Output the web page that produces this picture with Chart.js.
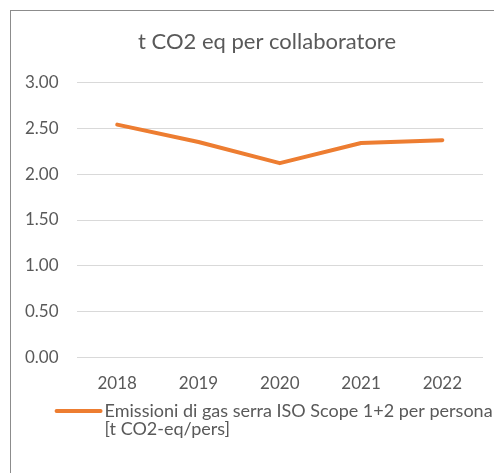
<!DOCTYPE html>
<html>
<head>
<meta charset="utf-8">
<script src="https://cdn.jsdelivr.net/npm/chart.js@4"></script>
<style>
  html, body { margin: 0; padding: 0; background: #fff; overflow: hidden; }
  #frame { position: absolute; left: 10px; top: 10px; width: 600px; height: 600px; border: 1px solid #8c8c8c; }
  #wrap { position: absolute; left: 0; top: 0; width: 494px; height: 473px; }
</style>
</head>
<body>
<div id="frame"></div>
<div id="wrap"><canvas id="chart"></canvas></div>
<script>
// dati
const anni = ['2018', '2019', '2020', '2021', '2022'];
const emissioniPerPersona = [2.54, 2.35, 2.12, 2.34, 2.37];
const etichettaSerie = ['Emissioni di gas serra ISO Scope 1+2 per persona', '[t CO2-eq/pers]'];
const titolo = 't CO2 eq per collaboratore';

const grigioTesto = '#595959';
const arancio = '#ED7D31';
const fontBase = 'Lato, "Open Sans", sans-serif';

// legenda disegnata a mano (Chart.js non va a capo come Excel)
const legendaExcel = {
  id: 'legendaExcel',
  afterDraw(chart) {
    const ctx = chart.ctx;
    const ds = chart.data.datasets[0];
    const xScale = chart.scales.x;
    const x0 = chart.chartArea.left - 20;
    const y0 = xScale.bottom + 1;
    ctx.save();
    ctx.strokeStyle = ds.borderColor;
    ctx.lineWidth = 4;
    ctx.lineCap = 'round';
    ctx.beginPath();
    ctx.moveTo(x0, y0);
    ctx.lineTo(x0 + 44, y0);
    ctx.stroke();
    ctx.fillStyle = grigioTesto;
    ctx.font = '18px ' + fontBase;
    ctx.textBaseline = 'middle';
    ds.label.forEach((riga, i) => {
      ctx.fillText(riga, x0 + 48, y0 + i * 18);
    });
    ctx.restore();
  }
};

new Chart(document.getElementById('chart'), {
  type: 'line',
  data: {
    labels: anni,
    datasets: [{
      label: etichettaSerie,
      data: emissioniPerPersona,
      borderColor: arancio,
      backgroundColor: arancio,
      borderWidth: 4,
      pointRadius: 0,
      tension: 0,
      borderCapStyle: 'round',
      borderJoinStyle: 'round'
    }]
  },
  options: {
    responsive: true,
    maintainAspectRatio: false,
    animation: false,
    layout: { padding: { top: 0, left: 7, right: 11, bottom: 63 } },
    plugins: {
      legend: { display: false },
      tooltip: { enabled: false },
      title: {
        display: true,
        // spazi iniziali: in Excel il titolo è centrato sulla cornice, più larga della finestra
        text: '\u2002\u2002\u2002\u2002' + titolo,
        color: grigioTesto,
        font: { family: fontBase, size: 22, weight: 'normal' },
        padding: { top: 29, bottom: 27 }
      }
    },
    scales: {
      x: {
        offset: true,
        grid: { display: false, drawTicks: false },
        border: { display: false },
        ticks: { color: grigioTesto, font: { family: fontBase, size: 17 }, padding: 16 }
      },
      y: {
        min: 0,
        max: 3,
        grid: { color: '#d9d9d9', drawTicks: false, lineWidth: 1 },
        border: { display: false },
        ticks: {
          stepSize: 0.5,
          color: grigioTesto,
          font: { family: fontBase, size: 17 },
          padding: 18,
          callback: v => Number(v).toFixed(2)
        }
      }
    }
  },
  plugins: [legendaExcel]
});
</script>
</body>
</html>
